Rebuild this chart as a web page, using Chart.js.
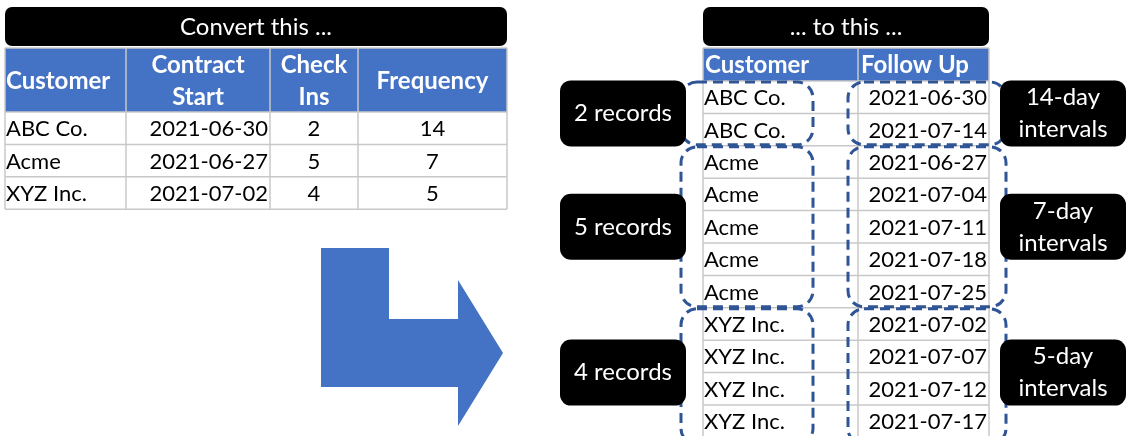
<!DOCTYPE html>
<html>
<head>
<meta charset="utf-8">
<script src="https://cdn.jsdelivr.net/npm/chart.js@4.4.1/dist/chart.umd.min.js"></script>
<style>
  html, body { margin: 0; padding: 0; background: #fff; }
  #wrap { width: 1128px; height: 436px; position: relative; }
</style>
</head>
<body>
<div id="wrap"><canvas id="diagram"></canvas></div>
<script>
(function () {
  'use strict';

  // ---- data ----
  var customers = ['ABC Co.', 'Acme', 'XYZ Inc.'];
  var contractStart = ['2021-06-30', '2021-06-27', '2021-07-02'];
  var checkIns = [2, 5, 4];
  var frequency = [14, 7, 5];

  var followUpCustomer = ['ABC Co.', 'ABC Co.', 'Acme', 'Acme', 'Acme', 'Acme', 'Acme',
    'XYZ Inc.', 'XYZ Inc.', 'XYZ Inc.', 'XYZ Inc.'];
  var followUpDate = ['2021-06-30', '2021-07-14', '2021-06-27', '2021-07-04', '2021-07-11',
    '2021-07-18', '2021-07-25', '2021-07-02', '2021-07-07', '2021-07-12', '2021-07-17'];

  var recordLabels = ['2 records', '5 records', '4 records'];
  var intervalLabels = [['14-day', 'intervals'], ['7-day', 'intervals'], ['5-day', 'intervals']];

  var leftHeaders = [['Customer'], ['Contract', 'Start'], ['Check', 'Ins'], ['Frequency']];
  var rightHeaders = ['Customer', 'Follow Up'];

  var BLUE = '#4472C4';
  var DASH = '#2F5597';
  var GRID = '#C8C8C8';
  var FONT = 'Lato, "Open Sans", sans-serif';

  function font(size, bold) { return (bold ? 'bold ' : '') + size + 'px ' + FONT; }

  var tablePlugin = {
    id: 'tables',
    afterDraw: function (chart) {
      var ctx = chart.ctx;
      var sx = chart.scales.x, sy = chart.scales.y;
      function X(v) { return sx.getPixelForValue(v); }
      function Y(v) { return sy.getPixelForValue(v); }

      function rect(x0, y0, x1, y1, fill) {
        ctx.fillStyle = fill;
        ctx.fillRect(X(x0), Y(y0), X(x1) - X(x0), Y(y1) - Y(y0));
      }
      function rrect(x0, y0, x1, y1, r) {
        ctx.beginPath();
        ctx.roundRect(X(x0), Y(y0), X(x1) - X(x0), Y(y1) - Y(y0), r);
      }
      function line(x0, y0, x1, y1, color, w) {
        ctx.strokeStyle = color; ctx.lineWidth = w || 1;
        ctx.beginPath(); ctx.moveTo(X(x0), Y(y0)); ctx.lineTo(X(x1), Y(y1)); ctx.stroke();
      }
      function text(str, x, y, align, size, bold, color) {
        ctx.font = font(size, bold);
        ctx.fillStyle = color;
        ctx.textAlign = align;
        ctx.textBaseline = 'middle';
        ctx.fillText(str, X(x), Y(y));
      }

      ctx.save();

      // ---- left table ----
      var lc = [5, 126, 270, 358, 507];
      var lHeadTop = 48, lHeadBot = 112, lRowH = 32.4;
      ctx.fillStyle = '#000'; rrect(5, 7, 507, 46, 7); ctx.fill();
      text('Convert this ...', 256, 27, 'center', 24, false, '#fff');

      rect(lc[0], lHeadTop, lc[4], lHeadBot, BLUE);
      leftHeaders.forEach(function (h, i) {
        var cx = (lc[i] + lc[i + 1]) / 2;
        var align = i === 0 ? 'left' : 'center';
        var tx = i === 0 ? lc[0] + 1 : cx;
        if (h.length === 1) text(h[0], tx, 81, align, 24, true, '#fff');
        else { text(h[0], tx, 65, align, 24, true, '#fff'); text(h[1], tx, 97, align, 24, true, '#fff'); }
      });
      customers.forEach(function (c, i) {
        var cy = lHeadBot + lRowH * (i + 0.5) + 1;
        text(c, lc[0] + 1, cy, 'left', 22, false, '#000');
        text(contractStart[i], lc[2] - 2, cy, 'right', 22, false, '#000');
        text(String(checkIns[i]), (lc[2] + lc[3]) / 2, cy, 'center', 22, false, '#000');
        text(String(frequency[i]), (lc[3] + lc[4]) / 2, cy, 'center', 22, false, '#000');
      });
      var lBot = lHeadBot + lRowH * customers.length;
      lc.forEach(function (x) { line(x, lHeadTop, x, lBot, GRID, 1.5); });
      line(lc[0], lHeadTop, lc[4], lHeadTop, GRID, 1.5);
      for (var r = 0; r <= customers.length; r++) {
        line(lc[0], lHeadBot + lRowH * r, lc[4], lHeadBot + lRowH * r, GRID, 1.5);
      }

      // ---- arrow ----
      var arrow = [[321, 248], [389, 248], [389, 319], [458, 319], [458, 280], [503, 353],
        [458, 426], [458, 387], [321, 387]];
      ctx.fillStyle = BLUE;
      ctx.beginPath();
      arrow.forEach(function (p, i) { if (i) ctx.lineTo(X(p[0]), Y(p[1])); else ctx.moveTo(X(p[0]), Y(p[1])); });
      ctx.closePath(); ctx.fill();

      // ---- right table ----
      var rc = [703, 858, 989];
      var rHeadTop = 48, rHeadBot = 81, rRowH = 32.4;
      ctx.fillStyle = '#000'; rrect(703, 7, 989, 46, 7); ctx.fill();
      text('... to this ...', 846, 27, 'center', 24, false, '#fff');

      rect(rc[0], rHeadTop, rc[2], rHeadBot, BLUE);
      text(rightHeaders[0], rc[0] + 2, 65, 'left', 24, true, '#fff');
      text(rightHeaders[1], rc[1] + 3, 65, 'left', 24, true, '#fff');
      followUpCustomer.forEach(function (c, i) {
        var cy = rHeadBot + rRowH * (i + 0.5) + 1;
        text(c, rc[0] + 1, cy, 'left', 22, false, '#000');
        text(followUpDate[i], rc[2] - 2, cy, 'right', 22, false, '#000');
      });
      var rBot = rHeadBot + rRowH * followUpCustomer.length;
      rc.forEach(function (x) { line(x, rHeadTop, x, rBot, GRID, 1.5); });
      line(rc[0], rHeadTop, rc[2], rHeadTop, GRID, 1.5);
      for (var k = 0; k <= followUpCustomer.length; k++) {
        line(rc[0], rHeadBot + rRowH * k, rc[2], rHeadBot + rRowH * k, GRID, 1.5);
      }

      // ---- dashed groups + side labels ----
      var start = 0;
      checkIns.forEach(function (n, g) {
        var y0 = rHeadBot + rRowH * start;
        var y1 = rHeadBot + rRowH * (start + n);
        if (g === checkIns.length - 1) y1 += 8;
        ctx.setLineDash([10, 6]);
        ctx.strokeStyle = DASH; ctx.lineWidth = 3;
        rrect(681, y0 + 1, 813, y1 - 1, 16); ctx.stroke();
        rrect(848, y0 + 1, 1006, y1 - 1, 16); ctx.stroke();
        ctx.setLineDash([]);

        var cy = rHeadBot + rRowH * (start + n / 2);
        ctx.fillStyle = '#000';
        rrect(560, cy - 33, 686, cy + 33, 11); ctx.fill();
        text(recordLabels[g], 623, cy, 'center', 24, false, '#fff');
        ctx.fillStyle = '#000';
        rrect(1000, cy - 33, 1126, cy + 33, 11); ctx.fill();
        text(intervalLabels[g][0], 1063, cy - 16, 'center', 24, false, '#fff');
        text(intervalLabels[g][1], 1063, cy + 16, 'center', 24, false, '#fff');
        start += n;
      });

      ctx.restore();
    }
  };

  new Chart(document.getElementById('diagram').getContext('2d'), {
    type: 'scatter',
    data: { datasets: [] },
    options: {
      responsive: true,
      maintainAspectRatio: false,
      animation: false,
      layout: { padding: 0 },
      plugins: { legend: { display: false }, tooltip: { enabled: false } },
      scales: {
        x: { type: 'linear', min: 0, max: 1128, display: false },
        y: { type: 'linear', min: 0, max: 436, reverse: true, display: false }
      }
    },
    plugins: [tablePlugin]
  });
})();
</script>
</body>
</html>
